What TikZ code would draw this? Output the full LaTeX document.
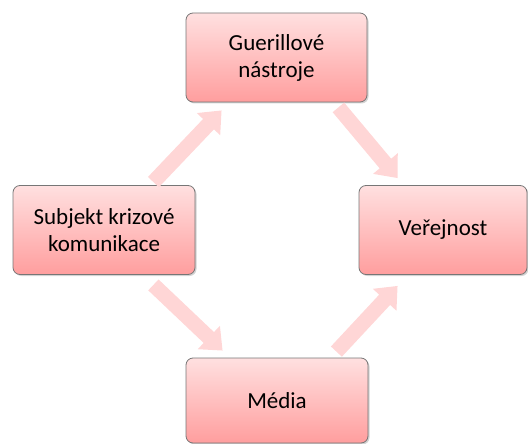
\documentclass[tikz,border=0pt]{standalone}
\usepackage{fontspec}
\setmainfont{Carlito}
\usetikzlibrary{arrows.meta,shadows}
\definecolor{boxtop}{RGB}{255,224,224}
\definecolor{boxbottom}{RGB}{255,158,158}
\definecolor{boxline}{RGB}{118,118,118}
\definecolor{flow}{RGB}{255,214,214}
\tikzstyle{stage}=[draw=boxline, line width=0.8pt, rounded corners=7pt, minimum height=89pt, top color=boxtop, bottom color=boxbottom, align=center, font=\fontsize{23}{27}\selectfont, drop shadow={shadow xshift=1.5pt, shadow yshift=-1.5pt, opacity=.35}]
\tikzstyle{link}=[-{Triangle[length=19pt,width=31pt]}, line width=15pt, color=flow]

\begin{document}
\begin{tikzpicture}[x=1pt,y=-1pt]
  \useasboundingbox (0,0) rectangle (528,444);
  \draw (104,230) node[stage,minimum width=182pt] (S) {Subjekt krizové\\komunikace};
  \draw (276.5,57.5) node[stage,minimum width=181pt] (G) {Guerillové\\nástroje};
  \draw (443,230) node[stage,minimum width=168pt] (V) {Veřejnost};
  \draw (277,400.5) node[stage,minimum width=182pt,minimum height=85pt] (M) {Média};

  \draw[link] ([xshift=-42pt,yshift=3pt]S.north east) -- ([xshift=36pt,yshift=-8pt]G.south west);
  \draw[link] ([xshift=-29pt,yshift=-5pt]G.south east) -- ([xshift=39pt,yshift=7pt]V.north west);
  \draw[link] ([xshift=-42pt,yshift=-10pt]S.south east) -- ([xshift=37pt,yshift=7pt]M.north west);
  \draw[link] ([xshift=-32pt,yshift=6pt]M.north east) -- ([xshift=39pt,yshift=-11pt]V.south west);
\end{tikzpicture}
\end{document}
